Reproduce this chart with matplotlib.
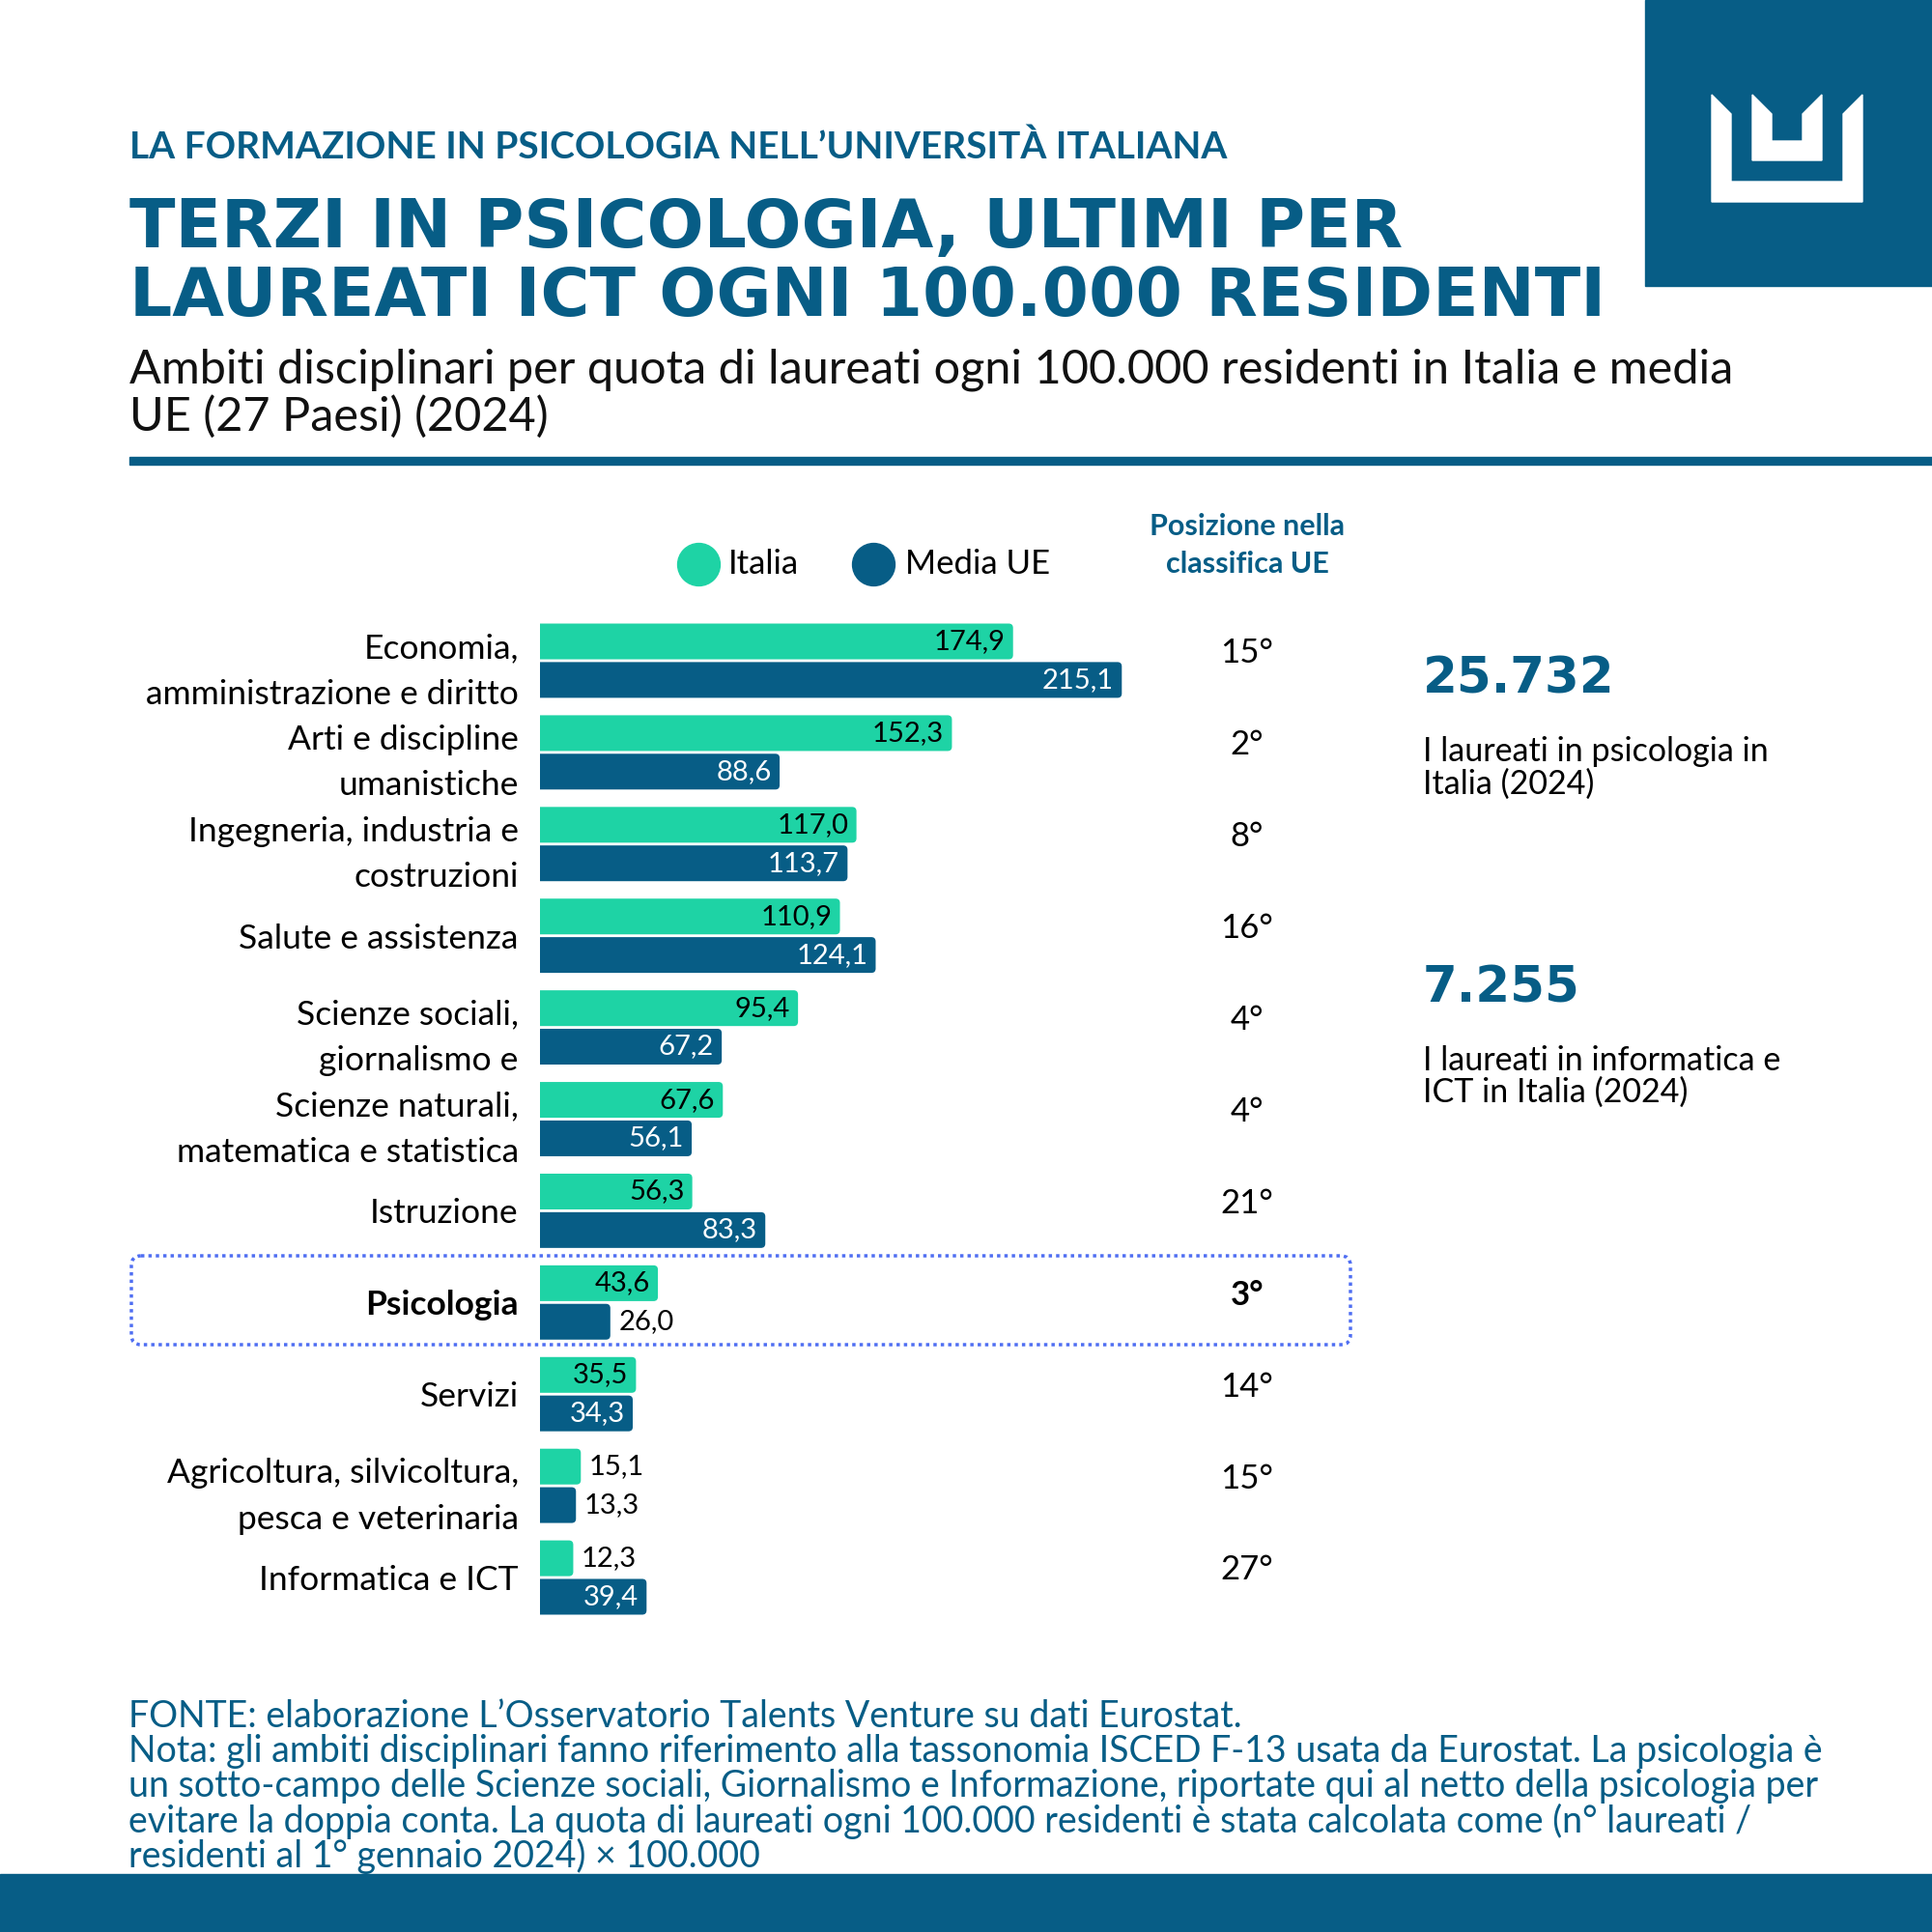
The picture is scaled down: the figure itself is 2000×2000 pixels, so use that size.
import matplotlib
matplotlib.use("Agg")
import matplotlib.pyplot as plt
from matplotlib.patches import Polygon, FancyBboxPatch, Rectangle
import numpy as np

plt.rcParams['font.family'] = ['Lato', 'DejaVu Sans']

# data
categorie = ["Economia,\namministrazione e diritto", "Arti e discipline\numanistiche",
             "Ingegneria, industria e\ncostruzioni", "Salute e assistenza",
             "Scienze sociali,\ngiornalismo e", "Scienze naturali,\nmatematica e statistica",
             "Istruzione", "Psicologia", "Servizi",
             "Agricoltura, silvicoltura,\npesca e veterinaria", "Informatica e ICT"]
italia = [174.9, 152.3, 117.0, 110.9, 95.4, 67.6, 56.3, 43.6, 35.5, 15.1, 12.3]
media_ue = [215.1, 88.6, 113.7, 124.1, 67.2, 56.1, 83.3, 26.0, 34.3, 13.3, 39.4]
posizione = ["15°", "2°", "8°", "16°", "4°", "4°", "21°", "3°", "14°", "15°", "27°"]

BLU = "#075d86"
VERDE = "#1ed3a5"
DOT = "#4f6ef2"

fig = plt.figure(figsize=(20, 20), dpi=100)

# background layer in pixel coords
bg = fig.add_axes([0, 0, 1, 1])
bg.set_xlim(0, 2000)
bg.set_ylim(2000, 0)
bg.axis("off")

# logo
bg.add_patch(Rectangle((1703, 0), 297, 296, color=BLU))
bg.add_patch(Polygon([(1772, 98), (1792, 118), (1792, 188), (1908, 188), (1908, 118),
                      (1928, 98), (1928, 209), (1772, 209)], color="white"))
bg.add_patch(Polygon([(1814, 98), (1834, 118), (1834, 146), (1866, 146), (1866, 118),
                      (1886, 98), (1886, 166), (1814, 166)], color="white"))
# bottom band
bg.add_patch(Rectangle((0, 1940), 2000, 60, color=BLU))
# rule under subtitle
bg.add_patch(Rectangle((134, 473), 1866, 8, color=BLU))

bg.text(134, 152, "LA FORMAZIONE IN PSICOLOGIA NELL\u2019UNIVERSITÀ ITALIANA", fontsize=28,
        fontweight="bold", color=BLU, va="center")
bg.text(134, 237, "TERZI IN PSICOLOGIA, ULTIMI PER", fontsize=50, fontweight="heavy",
        family="DejaVu Sans", color=BLU, va="center")
bg.text(134, 307, "LAUREATI ICT OGNI 100.000 RESIDENTI", fontsize=50, fontweight="heavy",
        family="DejaVu Sans", color=BLU, va="center")
bg.text(134, 383, "Ambiti disciplinari per quota di laureati ogni 100.000 residenti in Italia e media",
        fontsize=35, color="#111111", va="center")
bg.text(134, 431, "UE (27 Paesi) (2024)", fontsize=35, color="#111111", va="center")

# legend
bg.scatter([723], [584], s=1000, color=VERDE)
bg.scatter([904], [584], s=1000, color=BLU)
bg.text(754, 584, "Italia", fontsize=25, va="center")
bg.text(937, 584, "Media UE", fontsize=25, va="center")
bg.text(1291, 545, "Posizione nella", fontsize=22, fontweight="bold", color=BLU, ha="center", va="center")
bg.text(1291, 584, "classifica UE", fontsize=22, fontweight="bold", color=BLU, ha="center", va="center")

# highlight box around Psicologia
bg.add_patch(FancyBboxPatch((136, 1300), 1262, 92, boxstyle="round,pad=0,rounding_size=10",
                            fill=False, ec=DOT, lw=2.5, ls=(0, (1, 1.2))))

# right-side key figures
bg.text(1473, 703, "25.732", fontsize=37, fontweight="heavy", family="DejaVu Sans",
        color=BLU, va="center")
bg.text(1473, 778, "I laureati in psicologia in", fontsize=24.5, va="center")
bg.text(1473, 812, "Italia (2024)", fontsize=24.5, va="center")
bg.text(1473, 1023, "7.255", fontsize=37, fontweight="heavy", family="DejaVu Sans",
        color=BLU, va="center")
bg.text(1473, 1098, "I laureati in informatica e", fontsize=24.5, va="center")
bg.text(1473, 1131, "ICT in Italia (2024)", fontsize=24.5, va="center")

# footer
note = ["FONTE: elaborazione L\u2019Osservatorio Talents Venture su dati Eurostat.",
        "Nota: gli ambiti disciplinari fanno riferimento alla tassonomia ISCED F-13 usata da Eurostat. La psicologia è",
        "un sotto-campo delle Scienze sociali, Giornalismo e Informazione, riportate qui al netto della psicologia per",
        "evitare la doppia conta. La quota di laureati ogni 100.000 residenti è stata calcolata come (n° laureati /",
        "residenti al 1° gennaio 2024) × 100.000"]
for k, line in enumerate(note):
    bg.text(133, 1777 + k * 36, line, fontsize=27, color=BLU, va="center")

# bar chart axes: 1 unit = 2.8 px, groups 94.9 px apart
ax = fig.add_axes([559 / 2000, 1 - 1690 / 2000, 840 / 2000, 1063 / 2000])
ax.patch.set_alpha(0)
n = len(categorie)
y = np.arange(n)
h = 0.39
off = 0.21
ax.set_xlim(0, 300)
ax.set_ylim(n - 0.4, -0.6)
for sp in ax.spines.values():
    sp.set_visible(False)
ax.set_xticks([])
ax.set_yticks(y, categorie)
ax.tick_params(axis="y", length=0, pad=16, labelsize=25.5)
for i, lab in enumerate(ax.get_yticklabels()):
    lab.set_linespacing(1.6)
    if categorie[i] == "Psicologia":
        lab.set_fontweight("bold")

asp = (94.9 / 2.8)  # px per y unit / px per x unit
for i in range(n):
    for val, yy, col in [(italia[i], y[i] - off, VERDE), (media_ue[i], y[i] + off, BLU)]:
        ax.add_patch(FancyBboxPatch((-5, yy - h / 2), val + 5, h,
                                    boxstyle="round,pad=0,rounding_size=1.6",
                                    mutation_aspect=1 / asp, fc=col, ec="none"))
        txt = f"{val:.1f}".replace(".", ",")
        if val > 30:
            ax.annotate(txt, (val, yy), xytext=(-6, 0), textcoords="offset points",
                        ha="right", va="center", fontsize=21,
                        color="white" if col == BLU else "black")
        else:
            ax.annotate(txt, (val, yy), xytext=(6, 0), textcoords="offset points",
                        ha="left", va="center", fontsize=21, color="black")
    ax.text((1291 - 559) / 2.8, y[i] - 0.08, posizione[i], ha="center", va="center", fontsize=25,
            fontweight="bold" if categorie[i] == "Psicologia" else "normal", clip_on=False)

fig.savefig("out.png", dpi=100)
